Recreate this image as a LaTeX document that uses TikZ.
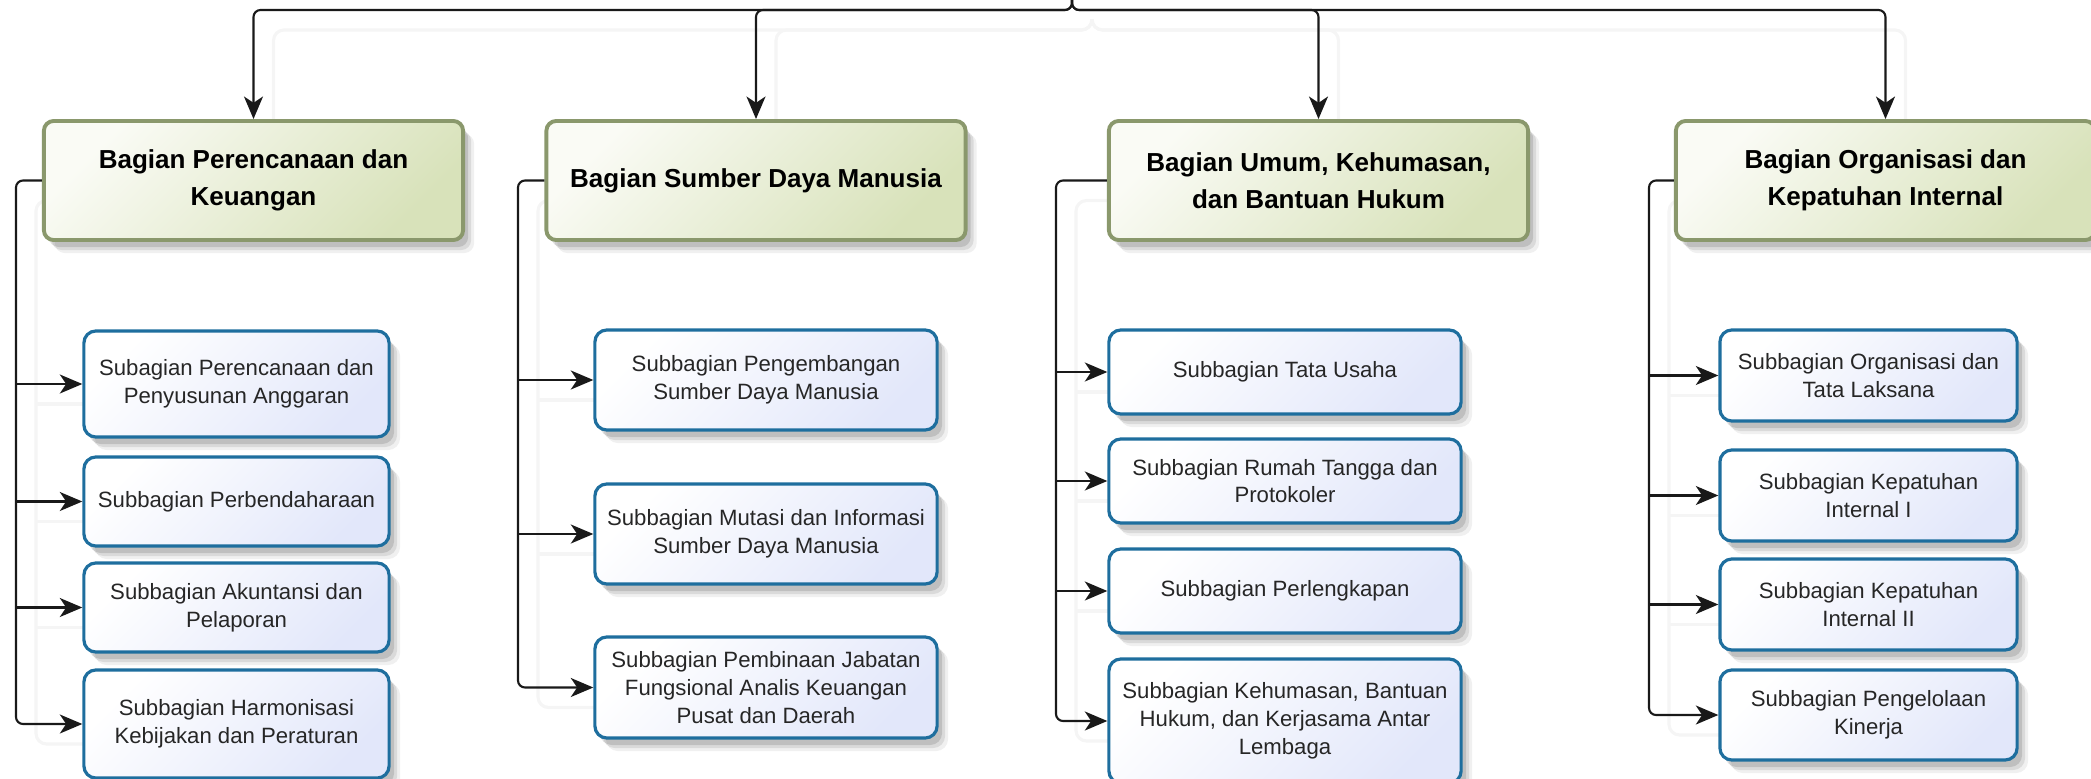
\documentclass[tikz,border=0pt]{standalone}
\usepackage{fontspec}
\setmainfont{Liberation Sans}
\usetikzlibrary{arrows.meta,shadows}

\definecolor{hdrline}{RGB}{138,152,108}
\definecolor{hdrlight}{RGB}{250,251,245}
\definecolor{hdrdark}{RGB}{216,226,186}
\definecolor{subline}{RGB}{30,110,158}
\definecolor{sublight}{RGB}{255,255,255}
\definecolor{subdark}{RGB}{226,231,250}

\pgfdeclarelayer{background}
\pgfsetlayers{background,main}

\tikzset{
  softshadow/.style={
    drop shadow={shadow xshift=1.1mm, shadow yshift=-1.3mm, opacity=0.06, fill=black},
    drop shadow={shadow xshift=0.8mm, shadow yshift=-1.0mm, opacity=0.09, fill=black},
    drop shadow={shadow xshift=0.5mm, shadow yshift=-0.7mm, opacity=0.12, fill=black}},
  hdrbox/.style={draw=hdrline, line width=1.1pt, rounded corners=2.8pt,
    top color=hdrlight, bottom color=hdrdark, shading angle=45,
    minimum width=4.19cm, minimum height=1.19cm, align=center,
    font=\bfseries\fontsize{7.4}{10.4}\selectfont, softshadow},
  subbox/.style 2 args={draw=subline, line width=0.9pt, rounded corners=3.4pt,
    top color=sublight, bottom color=subdark, shading angle=45,
    minimum width=#1, minimum height=#2, align=center, text=black!85,
    font=\fontsize{6.3}{7.9}\selectfont, softshadow},
  conn/.style={draw=black!90, line width=0.6pt, rounded corners=2pt,
    -{Stealth[length=6.4pt,width=5.4pt,inset=1.8pt]}},
  ghost/.style={draw=black!4, line width=0.9pt, rounded corners=3pt,
    transform canvas={shift={(20,20)}}}
}

\newcommand\drawlinks[1]{%
  \foreach \h in {h1,h2,h3,h4}
    \draw[#1] (root) -- ++(0,10) -| (\h.north);
  \draw[#1] (h1.west) -- (bus1) |- (s14.west);
  \foreach \s in {s11,s12,s13}
    \draw[#1] (bus1 |- \s.west) -- (\s.west);
  \draw[#1] (h2.west) -- (bus2) |- (s23.west);
  \foreach \s in {s21,s22}
    \draw[#1] (bus2 |- \s.west) -- (\s.west);
  \draw[#1] (h3.west) -- (bus3) |- (s34.west);
  \foreach \s in {s31,s32,s33}
    \draw[#1] (bus3 |- \s.west) -- (\s.west);
  \draw[#1] (h4.west) -- (bus4) |- (s44.west);
  \foreach \s in {s41,s42,s43}
    \draw[#1] (bus4 |- \s.west) -- (\s.west);
}

\begin{document}
\begin{tikzpicture}[x=0.01cm, y=-0.01cm]
\useasboundingbox (0,0) rectangle (2091,779);

\coordinate (root) at (1072,0);
\coordinate (bus1) at (16,180.5);
\coordinate (bus2) at (518,180.5);
\coordinate (bus3) at (1056,180.5);
\coordinate (bus4) at (1649,180.5);

\node[hdrbox] (h1) at (253.5,180.5) {Bagian Perencanaan dan\\Keuangan};
\node[hdrbox] (h2) at (756,180.5) {Bagian Sumber Daya Manusia};
\node[hdrbox] (h3) at (1318.5,180.5) {Bagian Umum, Kehumasan,\\dan Bantuan Hukum};
\node[hdrbox] (h4) at (1885.5,180.5) {Bagian Organisasi dan\\Kepatuhan Internal};

\node[subbox={3.05cm}{1.06cm}] (s11) at (236.5,384) {Subagian Perencanaan dan\\Penyusunan Anggaran};
\node[subbox={3.05cm}{0.89cm}] (s12) at (236.5,501.5) {Subbagian Perbendaharaan};
\node[subbox={3.05cm}{0.89cm}] (s13) at (236.5,607.5) {Subbagian Akuntansi dan\\Pelaporan};
\node[subbox={3.05cm}{1.08cm}] (s14) at (236.5,724) {Subbagian Harmonisasi\\Kebijakan dan Peraturan};

\node[subbox={3.42cm}{1.00cm}] (s21) at (766,380) {Subbagian Pengembangan\\Sumber Daya Manusia};
\node[subbox={3.42cm}{1.00cm}] (s22) at (766,534) {Subbagian Mutasi dan Informasi\\Sumber Daya Manusia};
\node[subbox={3.42cm}{1.01cm}] (s23) at (766,687.5) {Subbagian Pembinaan Jabatan\\Fungsional Analis Keuangan\\Pusat dan Daerah};

\node[subbox={3.52cm}{0.84cm}] (s31) at (1285,372) {Subbagian Tata Usaha};
\node[subbox={3.52cm}{0.84cm}] (s32) at (1285,481) {Subbagian Rumah Tangga dan\\Protokoler};
\node[subbox={3.52cm}{0.84cm}] (s33) at (1285,591) {Subbagian Perlengkapan};
\node[subbox={3.52cm}{1.24cm}] (s34) at (1285,721) {Subbagian Kehumasan, Bantuan\\Hukum, dan Kerjasama Antar\\Lembaga};

\node[subbox={2.97cm}{0.91cm}] (s41) at (1868.5,375.5) {Subbagian Organisasi dan\\Tata Laksana};
\node[subbox={2.97cm}{0.91cm}] (s42) at (1868.5,495.5) {Subbagian Kepatuhan\\Internal I};
\node[subbox={2.97cm}{0.91cm}] (s43) at (1868.5,604.5) {Subbagian Kepatuhan\\Internal II};
\node[subbox={2.97cm}{0.90cm}] (s44) at (1868.5,715) {Subbagian Pengelolaan\\Kinerja};

\begin{pgfonlayer}{background}
\drawlinks{ghost}
\end{pgfonlayer}
\drawlinks{conn}
\end{tikzpicture}
\end{document}
